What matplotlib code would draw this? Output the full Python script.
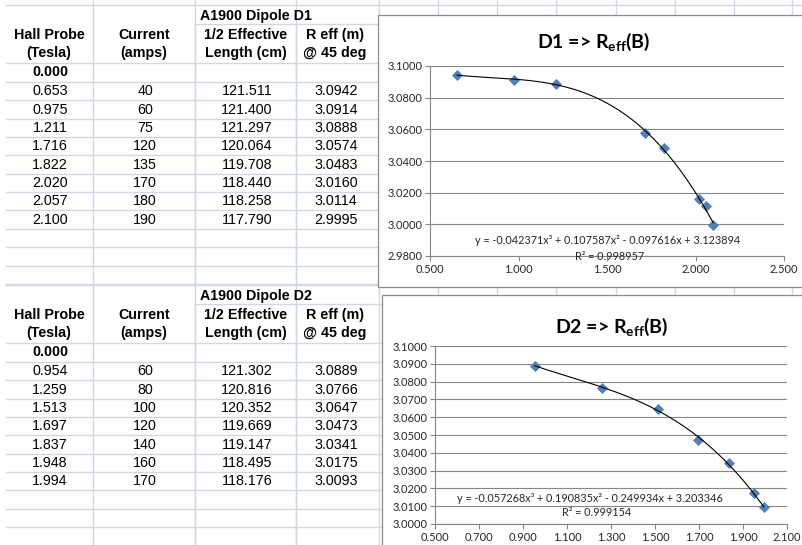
import numpy as np
import matplotlib
matplotlib.use('Agg')
import matplotlib.pyplot as plt
from matplotlib.patches import Rectangle
from matplotlib.ticker import FormatStrFormatter

plt.rcParams['font.family'] = ['Liberation Sans', 'DejaVu Sans']
plt.rcParams['mathtext.fontset'] = 'custom'
plt.rcParams['mathtext.rm'] = 'Lato:bold'
plt.rcParams['mathtext.bf'] = 'Lato:bold'

# ---- data ----
d1_field = [0.653, 0.975, 1.211, 1.716, 1.822, 2.020, 2.057, 2.100]
d1_current = [40, 60, 75, 120, 135, 170, 180, 190]
d1_half_len = [121.511, 121.400, 121.297, 120.064, 119.708, 118.440, 118.258, 117.790]
d1_reff = [3.0942, 3.0914, 3.0888, 3.0574, 3.0483, 3.0160, 3.0114, 2.9995]
d1_coef = [-0.042371, 0.107587, -0.097616, 3.123894]
d1_r2 = 0.998957

d2_field = [0.954, 1.259, 1.513, 1.697, 1.837, 1.948, 1.994]
d2_current = [60, 80, 100, 120, 140, 160, 170]
d2_half_len = [121.302, 120.816, 120.352, 119.669, 119.147, 118.495, 118.176]
d2_reff = [3.0889, 3.0766, 3.0647, 3.0473, 3.0341, 3.0175, 3.0093]
d2_coef = [-0.057268, 0.190835, -0.249934, 3.203346]
d2_r2 = 0.999154

headers_1 = ['Hall Probe', 'Current', '1/2 Effective', 'R eff (m)']
headers_2 = ['(Tesla)', '(amps)', 'Length (cm)', '@ 45 deg']

W, H = 802, 545
GRID = '#D0D7E5'
col_x = [50, 145, 247, 336]          # text centres of the 4 columns
sheet_cols = [93, 195, 296, 379, 438, 497, 556, 616, 675, 734, 792]

fig = plt.figure(figsize=(W / 100, H / 100), dpi=100)
bg = fig.add_axes([0, 0, 1, 1])
bg.set_xlim(0, W)
bg.set_ylim(H, 0)
bg.axis('off')


def draw_table(top, title, field, current, half_len, reff):
    row_h = 18.35
    n_rows = len(field) + 3
    bottom = top + 77 + n_rows * row_h
    # grid lines
    bg.plot([6, W], [top, top], color=GRID, lw=1)
    bg.plot([195, W], [top + 19, top + 19], color=GRID, lw=1)
    bg.plot([6, W], [top + 58, top + 58], color=GRID, lw=1)
    for i in range(n_rows + 1):
        y = top + 77 + i * row_h
        bg.plot([6, W], [y, y], color=GRID, lw=1)
    for x in (195, 296):
        bg.plot([x, x], [top + 19, bottom], color=GRID, lw=1)
    # text
    bg.text(256, top + 11, title, ha='center', va='center', fontsize=10.3,
            fontweight='bold')
    for cx, h1, h2 in zip(col_x, headers_1, headers_2):
        bg.text(cx - 1, top + 30, h1, ha='center', va='center', fontsize=10.3,
                fontweight='bold')
        bg.text(cx - 1, top + 48, h2, ha='center', va='center', fontsize=10.3,
                fontweight='bold')
    bg.text(col_x[0], top + 67.5, '0.000', ha='center', va='center',
            fontsize=10.3, fontweight='bold')
    for i in range(len(field)):
        y = top + 77 + (i + 0.5) * row_h
        vals = ['%.3f' % field[i], '%d' % current[i],
                '%.3f' % half_len[i], '%.4f' % reff[i]]
        for cx, v in zip(col_x, vals):
            bg.text(cx, y, v, ha='center', va='center', fontsize=10.3)


for x in sheet_cols:
    bg.plot([x, x], [0, H], color=GRID, lw=1)
draw_table(5, 'A1900 Dipole D1', d1_field, d1_current, d1_half_len, d1_reff)
draw_table(285, 'A1900 Dipole D2', d2_field, d2_current, d2_half_len, d2_reff)

# chart frames
bg.add_patch(Rectangle((378, 15), 440, 272, facecolor='white',
                       edgecolor='#8C8C8C', lw=0.9, zorder=5))
bg.add_patch(Rectangle((382, 295), 440, 270, facecolor='white',
                       edgecolor='#8C8C8C', lw=0.9, zorder=5))


def eq_text(c):
    s = 'y = %.6fx³' % c[0]
    for val, p in zip(c[1:], ['x²', 'x', '']):
        sign = '+' if val >= 0 else '-'
        s += ' %s %.6f%s' % (sign, abs(val), p)
    return s


def make_chart(box, field, reff, coef, r2, xlim, xstep, ylim, ystep,
               title, title_xy, eq_xy, r2_xy):
    x0, y0, x1, y1 = box
    ax = fig.add_axes([x0 / W, 1 - y1 / H, (x1 - x0) / W, (y1 - y0) / H])
    ax.set_facecolor('none')
    ax.set_xlim(*xlim)
    ax.set_ylim(*ylim)
    ax.set_xticks(np.arange(xlim[0], xlim[1] + xstep / 2, xstep))
    ax.set_yticks(np.arange(ylim[0], ylim[1] + ystep / 2, ystep))
    ax.xaxis.set_major_formatter(FormatStrFormatter('%.3f'))
    ax.yaxis.set_major_formatter(FormatStrFormatter('%.4f'))
    for side in ('top', 'right'):
        ax.spines[side].set_visible(False)
    for side in ('left', 'bottom'):
        ax.spines[side].set_color('#868686')
        ax.spines[side].set_linewidth(0.8)
    ax.grid(axis='y', color='#868686', lw=0.8)
    ax.set_axisbelow(True)
    ax.tick_params(direction='out', length=3.5, width=0.8, color='#868686',
                   labelcolor='#262626', labelsize=8, pad=2)
    for lab in ax.get_xticklabels() + ax.get_yticklabels():
        lab.set_fontfamily('Lato')
    xs = np.linspace(min(field), max(field), 200)
    ax.plot(field, reff, 'D', ms=5.5, color='#4F81BD', mec='#4A7AB0',
            mew=0.5, zorder=3, clip_on=False)
    ax.plot(xs, np.polyval(coef, xs), color='black', lw=0.8, zorder=4,
            clip_on=False)
    fig.text(*title_xy, title, transform=bg.transData, ha='center',
             va='center', fontsize=14, fontweight='bold', family='Lato')
    fig.text(*eq_xy, eq_text(coef), transform=bg.transData, ha='center',
             va='center', fontsize=7.8, family='Lato', color='#262626')
    fig.text(*r2_xy, 'R² = %.6f' % r2, transform=bg.transData, ha='center',
             va='center', fontsize=7.8, family='Lato', color='#262626')
    return ax


make_chart((430, 66, 784, 256), d1_field, d1_reff, d1_coef, d1_r2,
           (0.5, 2.5), 0.5, (2.98, 3.10), 0.02,
           r'D1 => R$_{\mathbf{eff}}$(B)', (594, 42), (608, 240), (610, 256))
make_chart((435, 346, 787, 524), d2_field, d2_reff, d2_coef, d2_r2,
           (0.5, 2.1), 0.2, (3.0, 3.1), 0.01,
           r'D2 => R$_{\mathbf{eff}}$(B)', (612, 327), (590, 498), (597, 513))

fig.savefig('out.png', dpi=100)
